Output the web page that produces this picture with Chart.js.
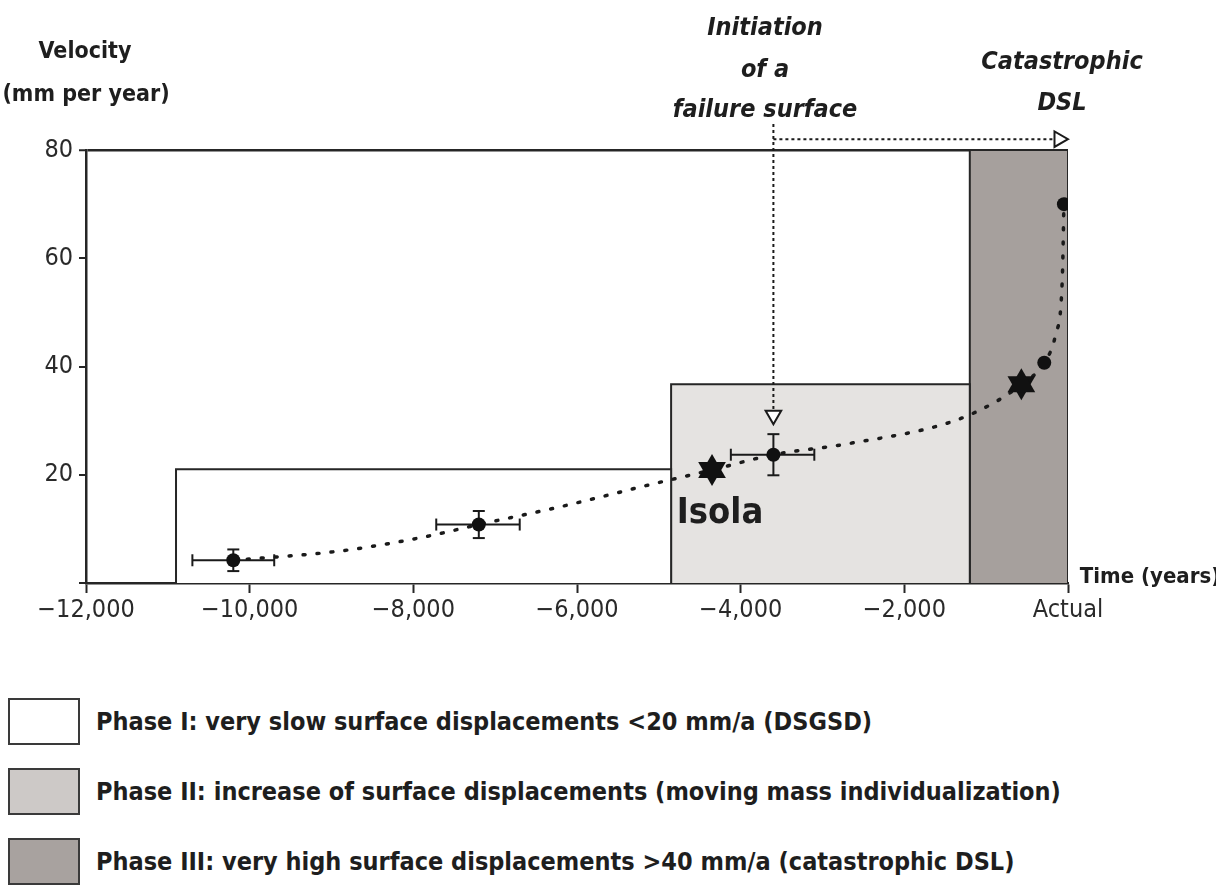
<!DOCTYPE html>
<html>
<head>
<meta charset="utf-8">
<script src="https://cdn.jsdelivr.net/npm/chart.js@4.4.0/dist/chart.umd.min.js"></script>
<style>
    body { margin: 0; background: #fff; width: 1216px; height: 888px; overflow: hidden; }
    #chart { position: absolute; left: 0; top: 0; }
    .legend-row { position: absolute; left: 8px; height: 48px; display: flex; align-items: center; }
    .legend-box { width: 72px; height: 47px; border: 2px solid #3a3a3a; box-sizing: border-box; }
    .legend-text { margin-left: 16px; font: bold 25px "Liberation Sans Narrow", "DejaVu Sans Condensed", sans-serif; color: #1e1e1e; white-space: nowrap; }
</style>
</head>
<body>
<canvas id="chart" width="1216" height="660"></canvas>
<div id="legend"></div>
<script>
// axis ticks
const xTickValues = [-12000, -10000, -8000, -6000, -4000, -2000, 0];
const xTickLabels = ['\u221212,000', '\u221210,000', '\u22128,000', '\u22126,000', '\u22124,000', '\u22122,000', 'Actual'];
const yTickValues = [0, 20, 40, 60, 80];
const yTickLabels = ['', '20', '40', '60', '80'];

// phases (years, mm per year)
const phaseNames = [
    'Phase I: very slow surface displacements <20 mm/a (DSGSD)',
    'Phase II: increase of surface displacements (moving mass individualization)',
    'Phase III: very high surface displacements >40 mm/a (catastrophic DSL)'
];
const phaseStart = [-10900, -4850, -1200];
const phaseEnd = [-4850, -1200, 0];
const phaseTop = [21, 36.7, 80];
const phaseFill = ['#ffffff', '#e5e3e1', '#a6a09d'];
const phaseLegendFill = ['#ffffff', '#cdc9c7', '#a8a29f'];

// dated measurements with error bars
const measYears = [-10200, -7200, -3600];
const measVel = [4.2, 10.8, 23.7];
const measYearLo = [-10700, -7720, -4120];
const measYearHi = [-9700, -6700, -3100];
const measVelErr = [2, 2.5, 3.8];

// stars (Isola and the recent one)
const starYears = [-4350, -570];
const starVel = [20.9, 36.7];

// recent measurements
const dotYears = [-290, -50];
const dotVel = [40.7, 70];

// dotted trend
const trendYears = [-10200, -8900, -7900, -7200, -6200, -5100, -4350, -3600, -2700, -1400, -870, -570, -290, -150, -70, -50];
const trendVel = [4.2, 5.9, 8.4, 10.8, 14.1, 18.2, 20.9, 23.7, 25.7, 29.9, 33.6, 36.7, 40.7, 46, 56, 70];

// "initiation of a failure surface" arrows
const initYear = -3600;
const initTop = 84.8;
const initArrowVel = 31;
const dslVel = 82;
const dslArrowYear = -110;

const INK = '#262626';
const FONT = '"Liberation Sans Narrow", "DejaVu Sans Condensed", sans-serif';

const toPts = (xs, ys) => xs.map((x, i) => ({ x: x, y: ys[i] }));

const datasets = [];

phaseStart.forEach((s, i) => {
    datasets.push({
        label: phaseNames[i],
        data: [{ x: s, y: 0 }, { x: s, y: phaseTop[i] }, { x: phaseEnd[i], y: phaseTop[i] }, { x: phaseEnd[i], y: 0 }],
        fill: 'origin',
        backgroundColor: phaseFill[i],
        borderColor: INK,
        borderWidth: 2,
        pointRadius: 0,
        tension: 0,
        order: 10
    });
});

datasets.push({
    label: 'trend',
    data: toPts(trendYears, trendVel),
    borderColor: '#1a1a1a',
    borderWidth: 3.5,
    borderDash: [2, 12],
    borderCapStyle: 'round',
    cubicInterpolationMode: 'monotone',
    pointRadius: 0,
    fill: false,
    order: 5
});

measYears.forEach((yr, i) => {
    datasets.push({
        label: 'xerr' + i,
        data: [{ x: measYearLo[i], y: measVel[i] }, { x: measYearHi[i], y: measVel[i] }],
        borderColor: '#1a1a1a',
        borderWidth: 2,
        pointStyle: 'line',
        pointRotation: 90,
        pointRadius: 6,
        pointBorderWidth: 2,
        pointBorderColor: '#1a1a1a',
        order: 3
    });
    datasets.push({
        label: 'yerr' + i,
        data: [{ x: yr, y: measVel[i] - measVelErr[i] }, { x: yr, y: measVel[i] + measVelErr[i] }],
        borderColor: '#1a1a1a',
        borderWidth: 2,
        pointStyle: 'line',
        pointRotation: 0,
        pointRadius: 6,
        pointBorderWidth: 2,
        pointBorderColor: '#1a1a1a',
        order: 3
    });
});

datasets.push({
    label: 'measurements',
    data: toPts(measYears.concat(dotYears), measVel.concat(dotVel)),
    showLine: false,
    pointStyle: 'circle',
    pointRadius: 7,
    backgroundColor: '#111',
    borderWidth: 0,
    order: 1
});

[0, 180].forEach(rot => {
    datasets.push({
        label: 'star' + rot,
        data: toPts(starYears, starVel),
        showLine: false,
        pointStyle: 'triangle',
        pointRotation: rot,
        pointRadius: 16,
        backgroundColor: '#111',
        borderWidth: 0,
        order: 0
    });
});

datasets.push({
    label: 'initiation',
    data: [{ x: initYear, y: initTop }, { x: initYear, y: initArrowVel }],
    borderColor: '#1a1a1a',
    borderWidth: 2,
    borderDash: [3, 3],
    pointStyle: ['line', 'triangle'],
    pointRotation: [0, 180],
    pointRadius: [5, 9],
    pointBackgroundColor: '#fff',
    pointBorderColor: '#1a1a1a',
    pointBorderWidth: 2,
    clip: false,
    order: 2
});

datasets.push({
    label: 'catastrophic',
    data: [{ x: initYear, y: dslVel }, { x: dslArrowYear, y: dslVel }],
    borderColor: '#1a1a1a',
    borderWidth: 2,
    borderDash: [3, 3],
    pointStyle: 'triangle',
    pointRotation: 90,
    pointRadius: [0, 9],
    pointBackgroundColor: '#fff',
    pointBorderColor: '#1a1a1a',
    pointBorderWidth: 2,
    clip: false,
    order: 2
});

const textPlugin = {
    id: 'texts',
    afterDraw(chart) {
        const ctx = chart.ctx;
        const xs = chart.scales.x, ys = chart.scales.y;
        ctx.save();
        ctx.fillStyle = '#1e1e1e';
        ctx.textAlign = 'center';
        ctx.textBaseline = 'middle';

        ctx.font = 'bold 23px ' + FONT;
        ctx.fillText('Velocity', 85, 52);
        ctx.fillText('(mm per year)', 86, 95);
        ctx.font = 'bold 22px ' + FONT;
        ctx.fillText('Time (years)', 1150, 577);

        ctx.font = 'italic bold 25px ' + FONT;
        ctx.fillText('Initiation', 765, 28);
        ctx.fillText('of a', 765, 70);
        ctx.fillText('failure surface', 765, 110);
        ctx.fillText('Catastrophic', 1062, 62);
        ctx.fillText('DSL', 1062, 103);

        ctx.font = 'bold 36px ' + FONT;
        ctx.fillText('Isola', xs.getPixelForValue(starYears[0]) + 8, ys.getPixelForValue(starVel[0]) + 44);
        ctx.restore();
    }
};

new Chart(document.getElementById('chart'), {
    type: 'line',
    data: { datasets: datasets },
    options: {
        responsive: false,
        animation: false,
        layout: { padding: { top: 150, right: 148, left: 0, bottom: 0 } },
        plugins: { legend: { display: false }, tooltip: { enabled: false } },
        scales: {
            x: {
                type: 'linear',
                min: -12000,
                max: 0,
                afterBuildTicks: s => { s.ticks = xTickValues.map(v => ({ value: v })); },
                afterFit: s => { s.height = 77; },
                ticks: {
                    autoSkip: false,
                    maxRotation: 0,
                    padding: 2,
                    color: '#2a2a2a',
                    font: { family: FONT, size: 25 },
                    callback: (v, i) => xTickLabels[i]
                },
                grid: { drawOnChartArea: false, tickLength: 10, tickColor: INK, tickWidth: 2 },
                border: { color: INK, width: 2.5 }
            },
            y: {
                min: 0,
                max: 80,
                afterBuildTicks: s => { s.ticks = yTickValues.map(v => ({ value: v })); },
                afterFit: s => { s.width = 86; },
                ticks: {
                    padding: 6,
                    color: '#2a2a2a',
                    font: { family: FONT, size: 25 },
                    callback: (v, i) => yTickLabels[i]
                },
                grid: {
                    drawOnChartArea: true,
                    tickLength: 7,
                    tickColor: INK,
                    tickWidth: 2,
                    color: c => (c.tick && c.tick.value === 80) ? INK : 'rgba(0,0,0,0)',
                    lineWidth: c => (c.tick && c.tick.value === 80) ? 2.5 : 0
                },
                border: { color: INK, width: 2.5 }
            }
        }
    },
    plugins: [textPlugin]
});

// legend below the chart
const legend = document.getElementById('legend');
phaseNames.forEach((name, i) => {
    const row = document.createElement('div');
    row.className = 'legend-row';
    row.style.top = (697 + i * 70) + 'px';
    row.innerHTML = '<div class="legend-box" style="background:' + phaseLegendFill[i] + '"></div>' +
        '<div class="legend-text">' + name + '</div>';
    legend.appendChild(row);
});
</script>
</body>
</html>
